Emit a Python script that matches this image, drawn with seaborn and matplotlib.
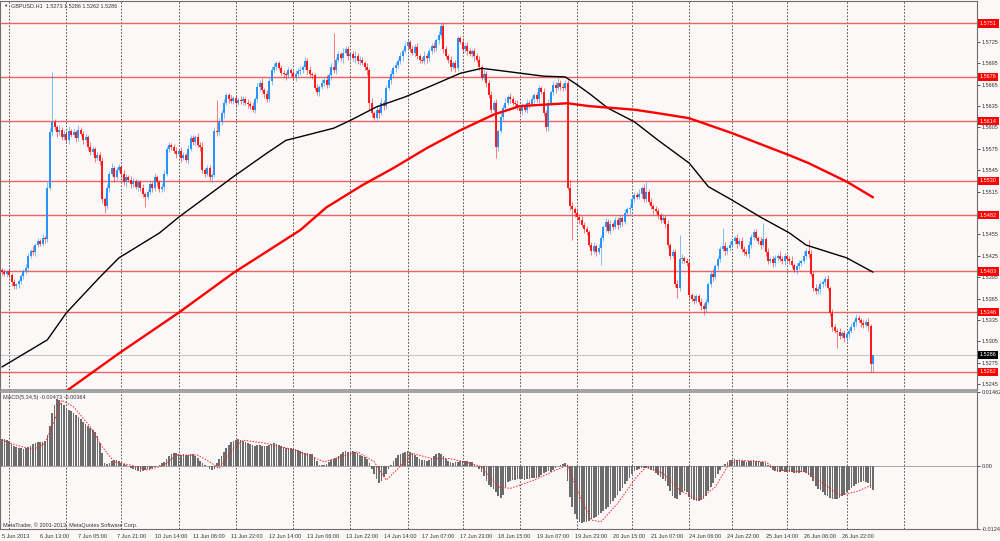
import numpy as np
import matplotlib
matplotlib.use('Agg')
import matplotlib.pyplot as plt
import matplotlib.transforms as mtransforms
from matplotlib.ticker import FormatStrFormatter
import seaborn as sns

# ---- GBPUSD H1 data, prices as last 4 digits (5402 -> 1.5402) ----
first_open = 5405
close_pips = [
    5402, 5400, 5403, 5398, 5388, 5382, 5385, 5390, 5396, 5404, 5408,
    5425, 5432, 5430, 5440, 5446, 5442, 5450, 5448, 5520, 5598, 5612,
    5605, 5598, 5602, 5592, 5596, 5588, 5600, 5595, 5598, 5590, 5602, 5596, 5588, 5592,
    5578, 5570, 5575, 5562, 5566, 5558, 5505, 5495,
    5520, 5540, 5548, 5535, 5545, 5550, 5540, 5528, 5536, 5532, 5525, 5530, 5522, 5528, 5520,
    5512, 5508, 5515, 5525, 5520, 5535, 5528, 5518, 5522, 5540,
    5575, 5580, 5578, 5572, 5568, 5572, 5562, 5566, 5560, 5575,
    5590, 5585, 5592, 5580, 5578, 5545, 5540, 5548, 5535, 5538,
    5600, 5598, 5612, 5625, 5640, 5650,
    5645, 5642, 5646, 5640, 5644, 5642, 5645, 5640, 5638, 5635, 5630, 5645,
    5662, 5668, 5658, 5652, 5645, 5670, 5685, 5690, 5695, 5688, 5682,
    5680, 5678, 5685, 5682, 5676, 5680, 5684, 5686, 5690, 5698, 5686, 5680, 5678,
    5660, 5655, 5662, 5668, 5672, 5665, 5678, 5690, 5685,
    5700, 5708, 5702, 5710, 5715, 5705, 5708, 5702, 5706, 5698, 5700, 5695, 5690, 5685,
    5640, 5625, 5618, 5630, 5625, 5640, 5635,
    5660, 5672, 5680, 5688, 5692, 5698, 5705, 5712, 5720, 5725, 5715, 5710, 5718,
    5705, 5700, 5698, 5706, 5702, 5712, 5720, 5716, 5728, 5735, 5748,
    5715, 5705, 5700, 5690, 5695, 5688, 5730, 5725,
    5715, 5720, 5712, 5708, 5712, 5705, 5700, 5690, 5675, 5680, 5668,
    5650, 5630, 5640, 5578, 5600, 5620, 5632, 5640, 5648, 5645,
    5640, 5638, 5632, 5628, 5635, 5630, 5640, 5638, 5645, 5650, 5645, 5660, 5655,
    5625, 5605, 5640, 5655, 5665, 5660, 5668, 5662, 5660, 5668,
    5520, 5495, 5490, 5485, 5480, 5475, 5468, 5462, 5458,
    5440, 5432, 5438, 5430, 5436, 5450, 5465, 5472, 5460,
    5470, 5465, 5475, 5468, 5478, 5472, 5485, 5490, 5492, 5505, 5510, 5508,
    5512, 5520, 5505, 5515, 5500, 5495, 5490, 5488, 5482, 5475, 5478, 5470,
    5440, 5425, 5430, 5385, 5380, 5420, 5422, 5418, 5415,
    5370, 5365, 5362, 5368, 5360, 5355, 5350, 5360,
    5385, 5400, 5395, 5410, 5420, 5435, 5438, 5432, 5436, 5440,
    5445, 5450, 5442, 5446, 5435, 5430, 5428, 5440, 5452, 5458, 5450, 5446,
    5440, 5448, 5430, 5418, 5420, 5415, 5422,
    5425, 5420, 5418, 5424, 5420, 5418, 5412, 5405, 5410, 5415, 5418, 5425, 5432, 5428,
    5400, 5380, 5375, 5378, 5385, 5388, 5392, 5380, 5345, 5325, 5320,
    5318, 5312, 5316, 5310, 5315, 5320, 5325, 5332, 5338, 5335,
    5330, 5328, 5332, 5326, 5273, 5286,
]
# wick lengths beyond the body, in pips
up_wick = [
    3, 4, 2, 5, 3, 4, 2, 3, 4, 3, 5, 4, 3, 6, 3, 4, 2, 5, 3, 8,
    6, 71, 5, 4, 6, 3, 5, 4, 7, 3, 5, 4, 6, 3, 4, 5, 3, 6, 4, 3,
    5, 4, 6, 3, 5, 4, 7, 3, 5, 4, 3, 6, 4, 3, 5, 4, 3, 5, 4, 6,
    3, 4, 5, 3, 6, 4, 3, 5, 6, 4, 5, 3, 4, 6, 3, 5, 4, 3, 6, 5,
    4, 3, 5, 4, 6, 3, 5, 4, 3, 5, 44, 6, 4, 5, 3, 4, 5, 3, 4, 3,
    5, 4, 3, 5, 4, 6, 3, 5, 4, 6, 3, 5, 4, 6, 5, 4, 3, 5, 4, 3,
    5, 4, 3, 6, 4, 5, 3, 6, 4, 5, 3, 4, 6, 3, 5, 4, 6, 3, 5, 48,
    4, 5, 3, 6, 4, 5, 3, 4, 6, 3, 5, 4, 3, 5, 4, 6, 3, 5, 4, 6,
    3, 5, 4, 6, 3, 5, 4, 6, 3, 5, 4, 3, 6, 4, 5, 3, 4, 6, 3, 5,
    4, 5, 3, 6, 3, 4, 5, 3, 6, 4, 5, 3, 4, 6, 3, 5, 4, 3, 5, 4,
    6, 3, 5, 4, 3, 6, 4, 5, 3, 5, 4, 6, 3, 5, 4, 3, 6, 4, 5, 3,
    5, 4, 6, 3, 5, 4, 3, 6, 4, 5, 3, 5, 4, 6, 3, 5, 4, 3, 12, 6,
    4, 5, 3, 6, 4, 5, 3, 4, 6, 3, 5, 4, 3, 6, 4, 5, 3, 4, 5, 6,
    3, 5, 4, 6, 3, 5, 4, 6, 3, 5, 14, 4, 6, 3, 5, 4, 3, 6, 4, 5,
    3, 5, 4, 6, 34, 5, 3, 4, 6, 3, 5, 4, 3, 6, 4, 5, 3, 4, 6, 3,
    5, 4, 26, 6, 3, 5, 4, 3, 6, 4, 5, 3, 4, 6, 3, 5, 4, 3, 5, 23,
    4, 6, 3, 5, 4, 3, 6, 4, 5, 3, 4, 6, 3, 5, 4, 3, 6, 4, 15, 5,
    3, 6, 4, 5, 3, 4, 6, 3, 5, 4, 3, 6, 4, 5, 3, 4, 6, 3, 5, 4,
    3, 5, 4, 6, 3, 0,
]
dn_wick = [
    4, 3, 5, 3, 6, 4, 3, 5, 4, 3, 4, 5, 3, 4, 5, 3, 4, 3, 5, 4,
    3, 5, 4, 6, 3, 5, 4, 3, 6, 4, 3, 5, 4, 3, 6, 4, 5, 3, 4, 6,
    3, 5, 6, 10, 4, 5, 3, 6, 4, 3, 5, 4, 6, 3, 5, 4, 3, 6, 4, 5,
    15, 4, 3, 6, 4, 5, 3, 4, 6, 3, 5, 4, 3, 6, 4, 5, 3, 4, 6, 3,
    5, 4, 3, 6, 4, 5, 3, 4, 6, 3, 5, 4, 3, 6, 4, 5, 3, 4, 6, 3,
    4, 5, 3, 6, 4, 3, 5, 4, 6, 3, 5, 4, 3, 6, 4, 5, 3, 4, 5, 6,
    3, 5, 4, 6, 3, 5, 4, 3, 6, 4, 5, 3, 4, 6, 3, 5, 4, 3, 6, 4,
    5, 3, 4, 6, 3, 5, 4, 3, 6, 4, 5, 3, 4, 6, 10, 5, 3, 4, 6, 3,
    5, 4, 3, 6, 4, 5, 3, 4, 6, 3, 5, 4, 3, 6, 4, 5, 3, 4, 6, 3,
    4, 5, 3, 6, 4, 5, 3, 4, 6, 3, 5, 4, 3, 6, 4, 5, 3, 4, 6, 3,
    5, 4, 3, 6, 4, 5, 3, 16, 6, 3, 5, 4, 3, 6, 4, 5, 3, 4, 6, 3,
    4, 5, 3, 6, 4, 5, 3, 4, 5, 5, 3, 4, 6, 3, 5, 4, 3, 3, 6, 43,
    5, 4, 6, 3, 5, 4, 3, 6, 4, 5, 3, 24, 4, 6, 3, 5, 4, 3, 6, 4,
    5, 3, 4, 6, 3, 5, 4, 3, 6, 4, 5, 3, 4, 6, 3, 5, 4, 3, 6, 4,
    5, 3, 4, 14, 4, 5, 3, 4, 6, 3, 5, 4, 3, 6, 8, 5, 3, 4, 6, 3,
    5, 4, 3, 6, 4, 5, 3, 4, 6, 3, 5, 4, 3, 6, 4, 5, 3, 4, 6, 3,
    5, 4, 3, 6, 4, 5, 3, 4, 6, 3, 5, 4, 3, 6, 4, 5, 3, 4, 6, 3,
    5, 4, 3, 6, 4, 5, 3, 4, 6, 3, 23, 4, 3, 6, 4, 5, 3, 4, 6, 3,
    5, 4, 3, 6, 11, 11,
]

# moving averages (bar index, price pips)
ma_black_bar = [0, 19, 27, 41, 49, 66, 74, 97, 111, 119, 125, 139, 146, 157, 169, 181, 192,
                201, 206, 227, 236, 241, 246, 254, 265, 275, 288, 296, 306, 318, 330, 337, 354, 365]
ma_black_pips = [5269, 5307, 5345, 5395, 5422, 5457, 5479, 5536, 5569, 5587, 5592, 5604, 5615,
                 5634, 5648, 5665, 5681, 5688, 5686, 5677, 5676, 5665, 5653, 5632, 5613, 5587,
                 5555, 5522, 5503, 5479, 5457, 5440, 5422, 5402]
ma_red_bar = [24, 49, 74, 97, 125, 136, 151, 164, 178, 192, 206, 217, 227, 237, 246, 265, 275,
              288, 306, 330, 338, 354, 365]
ma_red_pips = [5228, 5288, 5345, 5401, 5461, 5493, 5524, 5548, 5576, 5601, 5623, 5635, 5637,
               5639, 5635, 5630, 5625, 5618, 5597, 5566, 5555, 5529, 5507]

levels = [1.5751, 1.5676, 1.5614, 1.5530, 1.5482, 1.5403, 1.5346, 1.5262]
last_price = 1.5286
# right scale labels (the ones hidden behind level boxes are left out)
price_ticks = [1.5245, 1.5275, 1.5305, 1.5335, 1.5365, 1.5395, 1.5425, 1.5455, 1.5515,
               1.5545, 1.5575, 1.5605, 1.5635, 1.5665, 1.5695, 1.5725]

# MACD(5,34,5) main histogram, units of 0.00001
macd_main = [
    526, 530, 520, 500, 440, 400, 370, 360, 350, 345, 350, 370, 400, 430,
    460, 480, 480, 470, 490, 620, 800, 1050, 1200, 1320, 1300, 1250,
    1200, 1150, 1100, 1080, 1040, 1000, 960, 920, 880, 840, 800, 760, 720, 680, 600,
    450, 250, 60, 50, 70, 100, 120, 130, 110, 60, 40, 20, 0,
    -30, -50, -70, -90, -110, -100, -80, -60, -50, -40, -20, 0,
    30, 60, 90, 150, 200, 240, 260, 250, 230, 220, 230, 220, 225, 235, 230, 200, 160,
    100, 60, 30, 0, -50, -80, -60, 60, 140, 200, 280,
    360, 420, 470, 500, 520, 530, 520, 500, 480, 460,
    440, 420, 400, 410, 420, 400, 390, 400, 410, 430, 450, 440, 420, 400,
    380, 360, 350, 350, 340, 330, 310, 290, 270, 260, 250, 240, 230, 180,
    100, 30, 20, 20, 40, 80, 120, 150, 170, 200, 240, 270, 290, 280, 280,
    290, 270, 250, 220, 200, 180, 140, 60, -50, -150, -260, -340, -300,
    -220, -150, -60, 20, 100, 160, 210, 240, 260, 280, 290, 280, 260, 220, 180,
    150, 130, 120, 110, 120, 150, 200, 240, 250, 240, 200, 150, 100,
    80, 70, 80, 90, 100, 110, 100, 100, 90, 80, 40,
    0, -60, -120, -200, -300, -380, -420, -450, -520, -580, -620, -560,
    -420, -320, -300, -280, -270, -260, -250, -260, -270, -260, -250, -240,
    -240, -230, -220, -180, -140, -110, -100, -120, -80, -40, 0, 20, 40, 60,
    -300, -600, -800, -950, -1050, -1100, -1120, -1110, -1100, -1080,
    -1050, -1030, -1000, -960, -920, -880, -850, -800, -740, -680,
    -620, -560, -500, -430, -360, -300, -230, -160, -100,
    -70, -50, -40, -30, -40, -50, -70, -100, -140, -180,
    -220, -250, -300, -400, -500, -580, -620, -640, -560, -520, -500, -520,
    -600, -640, -670, -680, -690, -670, -640, -580, -500, -420, -330, -230,
    -150, -80, -20, 40, 90, 120, 130, 140, 130,
    120, 110, 100, 90, 100, 110, 120, 110, 100, 90, 80, 60, 20, -40,
    -80, -100, -110, -110, -100, -110, -120, -110, -120, -130, -140, -130, -120, -110, -140,
    -170, -220, -300, -400, -450, -480, -520, -560, -590,
    -620, -640, -650, -640, -620, -590, -560, -520, -480, -440, -400, -360,
    -330, -310, -300, -310, -330, -430, -473,
]
# signal line (bar index, units of 0.00001)
signal_bar = [0, 6, 13, 18, 22, 25, 30, 37, 42, 47, 54, 61, 68, 73, 82, 87, 91, 97, 101, 111,
              123, 135, 142, 149, 156, 161, 166, 172, 180, 187, 194, 201, 208, 213, 223, 232,
              237, 241, 247, 251, 258, 266, 270, 277, 284, 292, 299, 304, 308, 320, 325, 337,
              344, 351, 358, 365]
signal_val = [512, 414, 329, 447, 907, 1300, 1170, 775, 381, 85, 20, -79, 20, 217, 217, 85, -46,
              348, 512, 447, 315, 85, 184, 282, 85, -276, -46, 250, 151, 151, 85, -13, -407,
              -440, -276, -79, 20, -473, -1064, -1097, -736, -210, -13, -145, -473, -670, -407,
              -13, 118, 85, -79, -112, -342, -572, -506, -364]

time_labels = ['5 Jun 2013', '6 Jun 13:00', '7 Jun 05:00', '7 Jun 21:00', '10 Jun 14:00',
               '11 Jun 06:00', '11 Jun 22:00', '12 Jun 14:00', '13 Jun 06:00', '13 Jun 22:00',
               '14 Jun 14:00', '17 Jun 07:00', '17 Jun 23:00', '18 Jun 15:00', '19 Jun 07:00',
               '19 Jun 23:00', '20 Jun 15:00', '21 Jun 07:00', '24 Jun 06:00', '24 Jun 22:00',
               '25 Jun 14:00', '26 Jun 06:00', '26 Jun 22:00']
label_step = 16
day_start_bars = [3, 27, 50, 74, 98, 122, 146, 170, 193, 217, 241, 264, 288, 306, 329, 354, 378]

# ---- prepare ----
c = 1 + np.array(close_pips) / 1e4
o = np.concatenate([[1 + first_open / 1e4], c[:-1]])
n = min(len(c), len(up_wick), len(dn_wick))
c, o = c[:n], o[:n]
top = np.maximum(o, c)
bot = np.minimum(o, c)
hi = top + np.array(up_wick[:n]) / 1e4
lo = bot - np.array(dn_wick[:n]) / 1e4
idx = np.arange(n)
bull = c >= o

sns.set_style('white')
plt.rcParams['font.family'] = ['Liberation Sans', 'DejaVu Sans']

bg = '#fcf8f8'
grey = '#6e6e6e'
W, H = 1000, 541
fig = plt.figure(figsize=(10, 5.41), dpi=100, facecolor=bg)
ax = fig.add_axes([0.0, 1 - 390 / H, 977 / W, 389 / H], facecolor=bg)
ax2 = fig.add_axes([0.0, 1 - 529 / H, 977 / W, 137 / H], facecolor=bg, sharex=ax)

# day separators
for a in (ax, ax2):
    for d in day_start_bars:
        a.axvline(d, color='#3c3c3c', lw=0.6, ls=(0, (2, 2)), zorder=0.5)

# levels
for lv in levels:
    ax.axhline(lv, color='#f06262', lw=1.0, zorder=1)
ax.axhline(last_price, color='#c8c8c8', lw=0.8, zorder=1)

# candles
for mask, col in ((bull, '#1e90ff'), (~bull, '#ff1010')):
    ax.vlines(idx[mask], lo[mask], hi[mask], color=col, lw=0.7, alpha=0.55, zorder=2)
    ax.vlines(idx[mask], bot[mask], np.maximum(top[mask], bot[mask] + 0.00004),
              color=col, lw=1.35, zorder=3)

# moving averages
sns.lineplot(x=ma_black_bar, y=1 + np.array(ma_black_pips) / 1e4, ax=ax,
             color='black', lw=1.0, sort=False, zorder=4)
sns.lineplot(x=ma_red_bar, y=1 + np.array(ma_red_pips) / 1e4, ax=ax,
             color='#ff0000', lw=1.7, sort=False, zorder=4)

ax.set_ylim(1.52366, 1.57825)
ax.yaxis.tick_right()
ax.set_yticks(price_ticks)
ax.yaxis.set_major_formatter(FormatStrFormatter('%.4f'))
ax.tick_params(axis='y', direction='out', length=2, width=0.6, labelsize=4,
               colors='#333333', pad=1.5)
ax.tick_params(axis='x', bottom=False, labelbottom=False)

# level price boxes
trans = mtransforms.blended_transform_factory(ax.transAxes, ax.transData)
for lv in levels:
    ax.text(1 + 3 / 977, lv, f'{lv:.4f}', transform=trans, ha='left', va='center',
            fontsize=4, color='white', clip_on=False, zorder=6,
            bbox=dict(boxstyle='square,pad=0.3', fc='#ff0000', ec='none'))
ax.text(1 + 3 / 977, last_price, f'{last_price:.4f}', transform=trans, ha='left', va='center',
        fontsize=4, color='white', clip_on=False, zorder=6,
        bbox=dict(boxstyle='square,pad=0.3', fc='#000000', ec='none'))

# MACD panel
m = np.array(macd_main) / 1e5
sns.barplot(x=np.arange(len(m)), y=m, ax=ax2, native_scale=True, color='#6c6c6c',
            saturation=1, width=0.7, errorbar=None, edgecolor='none', zorder=2)
sns.lineplot(x=signal_bar, y=np.array(signal_val) / 1e5, ax=ax2, color='#ff2020',
             lw=0.7, linestyle=(0, (1.5, 1.5)), sort=False, zorder=3)
ax2.axhline(0, color='#9a9a9a', lw=0.6, zorder=1)
ax2.set_ylim(-0.0124, 0.01462)
ax2.yaxis.tick_right()
ax2.set_yticks([0.01462, 0.0, -0.0124])
ax2.set_yticklabels(['0.01462', '0.00', '-0.0124'])
ax2.tick_params(axis='y', direction='out', length=2, width=0.6, labelsize=4,
                colors='#333333', pad=1.5)

ax2.set_xticks(np.arange(len(time_labels)) * label_step)
ax2.set_xticklabels(time_labels, ha='left')
ax2.tick_params(axis='x', direction='out', length=2.5, width=0.6, labelsize=4,
                colors='#333333', pad=1)
ax2.set_xlim(-0.84, 408.6)

for a in (ax, ax2):
    a.set_xlabel('')
    a.set_ylabel('')
    for s in a.spines.values():
        s.set_color(grey)
        s.set_linewidth(0.8)
ax.spines['bottom'].set_linewidth(1.1)
ax.spines['bottom'].set_color('#8a8a8a')
ax2.spines['top'].set_linewidth(1.1)
ax2.spines['top'].set_color('#8a8a8a')

# header and footer texts
fig.text(3 / W, 1 - 6 / H, '\u25bc', fontsize=3.2, color='#333333', va='center', ha='left')
fig.text(11 / W, 1 - 6 / H, 'GBPUSD.H1  1.5273 1.5286 1.5262 1.5286', fontsize=4,
         color='#333333', va='center', ha='left')
fig.text(3 / W, 1 - 398 / H, 'MACD(5,34,5) -0.00473 -0.00364', fontsize=4,
         color='#333333', va='center', ha='left')
fig.text(3 / W, 1 - 525 / H, 'MetaTrader, \u00a9 2001-2013, MetaQuotes Software Corp.',
         fontsize=4, color='#333333', va='center', ha='left')

fig.savefig('out.png', dpi=100, facecolor=bg)
